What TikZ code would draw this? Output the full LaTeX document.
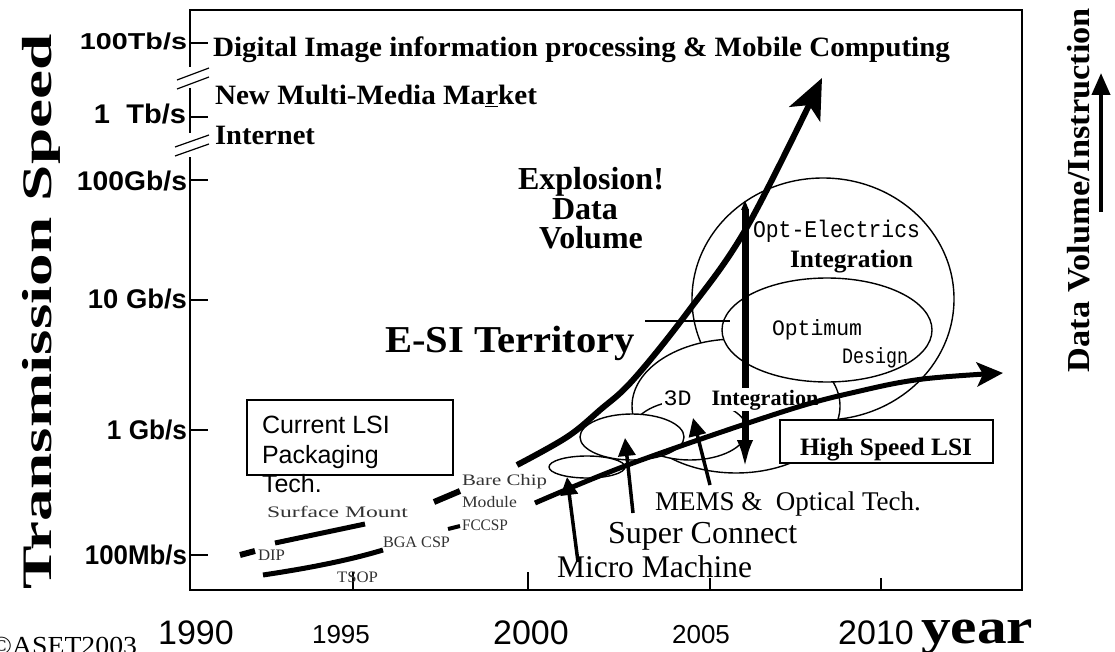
\documentclass[tikz,border=0pt]{standalone}
\usepackage{graphicx}
\usepackage{fontspec}
\setmainfont{Liberation Serif}
\setsansfont{Liberation Sans}
\setmonofont{Liberation Mono}
\usetikzlibrary{arrows.meta}
\newcommand\W[2]{\resizebox{#1pt}{\height}{#2}}
\newcommand\fs[1]{\fontsize{#1}{#1}\selectfont}
\begin{document}
\begin{tikzpicture}[x=1pt,y=-1pt,
  every node/.style={inner sep=0pt,outer sep=0pt},
  ell/.style={draw,line width=1.4pt,fill=white},
  tickl/.style={anchor=east,font=\sffamily\bfseries\fs{27}},
  tk/.style={line width=1.5pt},
  yr/.style={anchor=base,font=\sffamily,text depth=0pt},
  faded/.style={anchor=base west,text=black!80,font=\rmfamily\fs{16}},
  chartline/.style={line width=5pt},
  smallarrow/.style={line width=3.5pt,-{Triangle[length=18pt,width=17pt]}},
  lbl/.style={anchor=base west},
  boxed/.style={draw,line width=1.3pt,fill=white}]
\useasboundingbox (0,0) rectangle (1115,652);

% frame and axis
\draw[line width=2.5pt] (190,67) -- (190,10) -- (1022,10) -- (1022,590) -- (190,590) -- (190,157);
\draw[line width=2.5pt] (190,88) -- (190,133);
\draw[line width=1.2pt] (177,80) -- (209,68) (177,89) -- (209,77);
\draw[line width=1.2pt] (175,147) -- (209,135) (175,156) -- (209,144);
\foreach \yy in {43,117,180,300,430,555} \draw[tk] (190,\yy) -- (208,\yy);
\foreach \xx/\yy in {353/572,528/572,710/578,881/578} \draw[tk] (\xx,\yy) -- (\xx,590);

% tick labels
\node[tickl] (t1) at (187,41) {\fs{23}\W{107}{100Tb/s}};
\node[tickl] (t2) at (186,114) {\W{92}{1\ \ Tb/s}};
\node[tickl] (t3) at (187,181) {\W{110}{100Gb/s}};
\node[tickl] (t4) at (187,299) {\W{99}{10 Gb/s}};
\node[tickl] (t5) at (187,430) {\W{80}{1 Gb/s}};
\node[tickl] (t6) at (187,555) {\W{102}{100Mb/s}};

% axis titles
\node[rotate=90] (ts) at (41,312) {\bfseries\fs{42}\W{555}{Transmission Speed}};
\node[rotate=90] (dv) at (1079,190) {\bfseries\fs{32}\W{364}{Data Volume/Instruction}};
\coordinate (dva) at (1101,212);
\coordinate (dvb) at (1101,73);
\draw[line width=4pt,-{Triangle[length=22pt,width=18pt]}] (dva) -- (dvb);

% year labels
\node[yr,font=\sffamily\fs{34}] (y1990) at (196,644) {1990};
\node[yr,font=\sffamily\fs{26}] (y1995) at (341,643) {1995};
\node[yr,font=\sffamily\fs{34}] (y2000) at (531,644) {2000};
\node[yr,font=\sffamily\fs{26}] (y2005) at (701,643) {2005};
\node[yr,font=\sffamily\fs{34}] (y2010) at (876,644) {2010};
\node[lbl,text depth=0pt] (year) at (921,643) {\bfseries\fs{50}\W{112}{year}};
\node[lbl,text depth=0pt] (aset) at (-9,654) {\fs{26}\W{146}{©ASET2003}};

% market texts
\node[lbl] (dig) at (213,57) {\bfseries\fs{28}\W{737}{Digital Image information processing \& Mobile Computing}};
\node[lbl] (nmm) at (215,105) {\bfseries\fs{28}\W{322}{New Multi-Media Ma\underline{r}ket}};
\node[lbl] (inet) at (215,145) {\bfseries\fs{28}\W{100}{Internet}};

% ellipses
\draw[ell] (823,299) ellipse [x radius=131, y radius=121];
\draw[ell] (736,406) ellipse [x radius=104, y radius=67];
\draw[ell] (827,330) ellipse [x radius=105, y radius=52];
\draw[ell] (690,430) ellipse [x radius=57, y radius=30];
\draw[ell] (632,437) ellipse [x radius=52, y radius=23];
\draw[ell] (587,467) ellipse [x radius=38, y radius=11];

% boxes
\node[boxed,minimum width=206pt,minimum height=75pt,anchor=north west] (cur) at (247,400) {};
\node[boxed,minimum width=213pt,minimum height=43pt,anchor=north west] (hs) at (780,420) {};
\node[anchor=base] (hst) at (886,455) {\bfseries\fs{25}\W{172}{High Speed LSI}};
\node[lbl,font=\sffamily\fs{25}] (c1) at (262,433) {Current LSI};
\node[lbl,font=\sffamily\fs{25}] (c2) at (262,463) {Packaging};
\node[lbl,font=\sffamily\fs{25}] (c3) at (262,492) {Tech.};

% thin horizontal line
\coordinate (hl1) at (645,321);
\coordinate (hl2) at (730,321);
\draw[line width=1.3pt] (hl1) -- (hl2);

% vertical arrow
\coordinate (va1) at (745,200);
\coordinate (va2) at (745,470);
\draw[line width=7pt,{Triangle[length=10pt,width=7pt]}-{Latex[length=30pt,width=16pt]}] (va1) -- (va2);

% 3D integration text
\node[lbl,fill=white,inner sep=1.5pt] (i3d) at (662,405) {\ttfamily\fs{22}\W{28}{3D}\hspace{20pt}\bfseries\rmfamily\W{107}{Integration}};

% explosion curve
\draw[line width=6pt,-{Stealth[length=40pt,width=34pt,inset=10pt]}]
  plot[smooth,tension=0.6] coordinates {(517,465) (567,437) (600,410) (633,380) (687,313) (747,227) (822,78)};
% high speed LSI curve
\draw[line width=5pt,-{Stealth[length=26pt,width=24pt,inset=6pt]}]
  plot[smooth,tension=0.6] coordinates {(535,503) (633,463) (785,411) (860,391) (923,379) (1003,373)};

% small arrows
\draw[smallarrow] (578,562) -- (567,477);
\draw[smallarrow] (633,513) -- (625,438);
\draw[smallarrow] (710,485) -- (693,418);

% bottom-left chart segments
\draw[line width=6pt] (240,555) -- (255,551);
\draw[chartline] (275,543) -- (365,524);
\draw[chartline] (263,575) .. controls (310,568) and (350,560) .. (383,550);
\draw[line width=4pt] (448,529) -- (460,526);
\draw[line width=6pt] (434,502) -- (460,491);

% faded package labels
\node[faded] (bc) at (462,485) {\W{85}{Bare Chip}};
\node[faded] (md) at (462,507) {\W{55}{Module}};
\node[faded] (fc) at (462,530) {\W{46}{FCCSP}};
\node[faded] (bg) at (383,547) {\W{67}{BGA CSP}};
\node[faded] (sm) at (267,517) {\W{141}{Surface Mount}};
\node[faded] (dip) at (258,560) {\W{27}{DIP}};
\node[faded] (tsop) at (337,582) {\W{41}{TSOP}};

% central texts
\node[anchor=base,font=\bfseries\fs{32}] (ex1) at (591,190) {Explosion!};
\node[anchor=base,font=\bfseries\fs{32}] (ex2) at (585,219) {Data};
\node[anchor=base,font=\bfseries\fs{32}] (ex3) at (591,248) {Volume};
\node[lbl] (esi) at (385,352) {\bfseries\fs{38}\W{250}{E-SI Territory}};

\node[lbl] (oe) at (753,237) {\ttfamily\fs{24}\W{167}{Opt-Electrics}};
\node[lbl] (oei) at (790,268) {\bfseries\fs{25}\W{123}{Integration}};
\node[lbl] (opt) at (772,335) {\ttfamily\fs{22}\W{90}{Optimum}};
\node[lbl] (des) at (842,363) {\ttfamily\fs{22}\W{66}{Design}};

\node[lbl,font=\fs{27}] (mems) at (655,510) {MEMS \&\ \ Optical Tech.};
\node[lbl,font=\fs{32}] (sc) at (608,543) {Super Connect};
\node[lbl,font=\fs{31.5}] (mm) at (557,577) {Micro Machine};
\end{tikzpicture}
\end{document}
